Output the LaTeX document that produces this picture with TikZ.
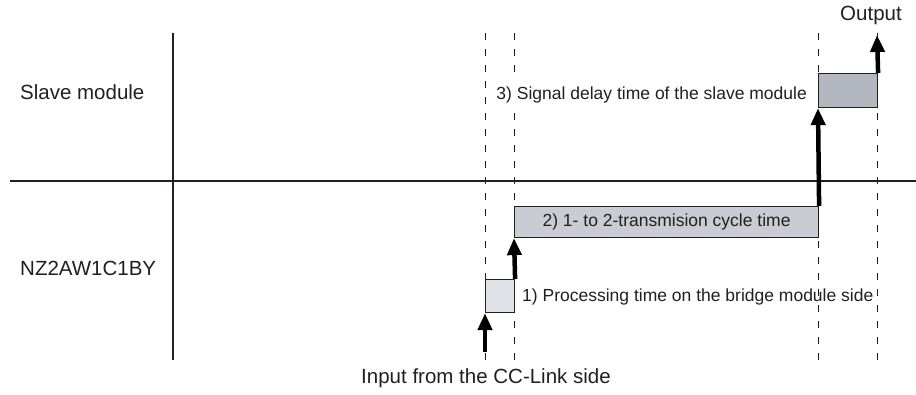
\documentclass[tikz,border=0pt]{standalone}
\usepackage{fontspec}
\setmainfont{Liberation Sans}
\usetikzlibrary{arrows.meta}
\definecolor{ink}{HTML}{231F20}
\definecolor{fillA}{HTML}{DFE2E7}
\definecolor{fillB}{HTML}{C9CCD3}
\definecolor{fillC}{HTML}{B3B7C0}
\tikzset{
  axis/.style={draw=ink, line width=1.2pt},
  guide/.style={draw=ink, line width=1pt, dash pattern=on 7pt off 9pt},
  tbox/.style={draw=ink, line width=1.1pt, inner sep=0pt, anchor=north west},
  bigarrow/.style={draw=black, line width=4.5pt, -{Triangle[width=14pt,length=17pt]}},
  biglabel/.style={text=ink, font=\fontsize{20.5}{24}\selectfont, inner sep=0pt},
  smalllabel/.style={text=ink, font=\fontsize{17.5}{21}\selectfont, inner sep=0pt}
}
\begin{document}
\begin{tikzpicture}[x=1pt,y=-1pt]
\useasboundingbox (0,0) rectangle (916,394);
% axes
\draw[axis] (10,181) -- (916,181);
\draw[axis] (173,33) -- (173,360);
% guides
\foreach \gx in {485,514,818,877} \draw[guide] (\gx,33) -- (\gx,360);
% boxes
\node[tbox, fill=fillA, minimum width=29pt, minimum height=33pt] (b1) at (485,279) {};
\node[tbox, fill=fillB, minimum width=304pt, minimum height=31pt] (b2) at (514,206) {};
\node[tbox, fill=fillC, minimum width=59pt, minimum height=34pt] (b3) at (818,73) {};
% labels
\node[biglabel, anchor=west] (ls) at (20,92) {Slave module};
\node[biglabel, anchor=west] (ln) at (20,268) {NZ2AW1C1BY};
\node[biglabel] (lo) at (871,15) {Output};
\node[biglabel] (li) at (486,378) {Input from the CC-Link side};
\node[smalllabel] (l2) at (b2.center) {2) 1- to 2-transmision cycle time};
\node[smalllabel, anchor=west] (l1) at (522,297) {1) Processing time on the bridge module side};
\node[smalllabel, anchor=east, fill=white, inner xsep=1pt, inner ysep=8pt] (l3) at (808,95) {3) Signal delay time of the slave module};
% arrows
\coordinate (in) at (485,352);
\coordinate (out) at (877,35);
\draw[bigarrow] (in) -- (b1.south west);
\draw[bigarrow] (b1.north east) -- (b2.south west);
\draw[bigarrow] (b2.north east) -- (b3.south west);
\draw[bigarrow] (b3.north east) -- (out);
\end{tikzpicture}
\end{document}
